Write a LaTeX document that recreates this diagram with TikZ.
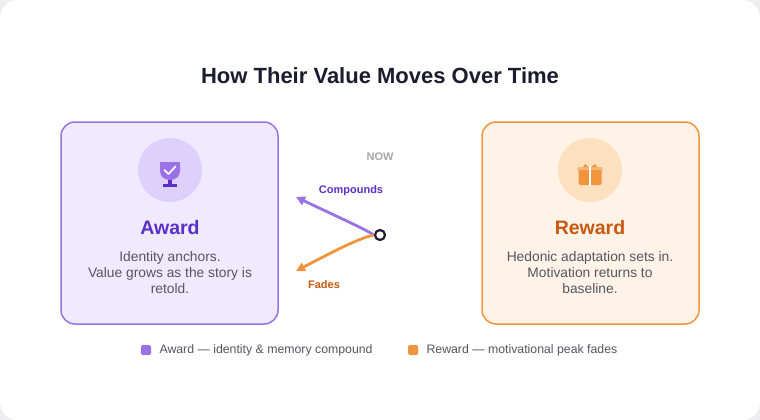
\documentclass[tikz,border=0pt]{standalone}
\usepackage{fontspec}
\setmainfont{Liberation Sans}
\usetikzlibrary{arrows.meta}
\definecolor{bg}{HTML}{EEEEF1}
\definecolor{pur}{HTML}{9B72E6}
\definecolor{purdk}{HTML}{5B2FC9}
\definecolor{purfill}{HTML}{F0EAFE}
\definecolor{purcirc}{HTML}{DDD0FB}
\definecolor{org}{HTML}{F0953C}
\definecolor{orgdk}{HTML}{C8590F}
\definecolor{orgfill}{HTML}{FFF3E8}
\definecolor{orgcirc}{HTML}{FDE0C0}
\definecolor{txt}{HTML}{555560}
\definecolor{ttl}{HTML}{1C1C2E}
\tikzset{
  card/.style={rounded corners=14pt, line width=1.5pt},
  body/.style={text=txt, font=\fontsize{13.8}{16}\selectfont, align=center},
  head/.style={font=\bfseries\fontsize{19.5}{22}\selectfont},
  lbl/.style={font=\bfseries\fontsize{11}{12}\selectfont},
  leg/.style={text=txt, font=\fontsize{12.3}{14}\selectfont, anchor=west},
}
\begin{document}
\begin{tikzpicture}[x=1pt,y=-1pt]
\useasboundingbox (0,0) rectangle (760,420);
\fill[bg] (0,0) rectangle (760,420);
\fill[white, rounded corners=18pt] (0,0) rectangle (760,420);
\node[text=ttl, font=\bfseries\fontsize{22}{26}\selectfont] (title) at (380,76) {How Their Value Moves Over Time};
% left card
\draw[card, draw=pur, fill=purfill] (61,122) rectangle (278,324);
\node[circle, fill=purcirc, minimum size=64pt, inner sep=0] (ic1) at (170,170) {};
\fill[pur] (160,162) -- (180,162) -- (180,171) .. controls (180,177) and (175,180) .. (170,180) .. controls (165,180) and (160,177) .. (160,171) -- cycle;
\draw[white, line width=1.6pt, line cap=round, line join=round] (164.5,170) -- (168.5,174) -- (175.5,166.5);
\fill[purdk] (168,180) rectangle (172,184);
\fill[purdk] (163,184) rectangle (177,187);
\node[head, text=purdk] (aw) at (170,228) {Award};
\node[body] (awt) at (170,273) {Identity anchors.\\Value grows as the story is\\retold.};
% right card
\draw[card, draw=org, fill=orgfill] (482,122) rectangle (699,324);
\node[circle, fill=orgcirc, minimum size=64pt, inner sep=0] (ic2) at (590,170) {};
\fill[org!70!white, rounded corners=1pt] (577.5,167) rectangle (602.5,172);
\fill[org, rounded corners=1.5pt] (578.5,170) rectangle (601.5,185);
\fill[org] (585,164) -- (589,167) -- (583,167) -- cycle;
\fill[org] (595,164) -- (591,167) -- (597,167) -- cycle;
\fill[white] (589,166) rectangle (591,186);
\node[head, text=orgdk] (rw) at (590,228) {Reward};
\node[body] (rwt) at (590,273) {Hedonic adaptation sets in.\\Motivation returns to\\baseline.};
% connectors
\node[circle, draw=ttl, line width=2.2pt, fill=white, minimum size=10pt, inner sep=0] (now) at (380,235) {};
\coordinate (up) at (296,197);
\coordinate (dn) at (296,271);
\draw[pur, line width=2.8pt, -{Triangle[length=9pt,width=9pt]}] (now.west) .. controls (365,229) and (340,218) .. (up);
\draw[org, line width=2.8pt, -{Triangle[length=9pt,width=9pt]}] (now.west) .. controls (360,238) and (340,248) .. (dn);
\node[lbl, text=gray!70] (nowl) at (380,157) {NOW};
\node[lbl, text=purdk] (cl) at (351,191) {Compounds};
\node[lbl, text=orgdk] (fl) at (324,285) {Fades};
% legend
\fill[pur, rounded corners=1.5pt] (141,345) rectangle (151,355);
\node[leg] (l1) at (156,350) {Award — identity \& memory compound};
\fill[org, rounded corners=1.5pt] (408,345) rectangle (418,355);
\node[leg] (l2) at (423,350) {Reward — motivational peak fades};
\end{tikzpicture}
\end{document}
